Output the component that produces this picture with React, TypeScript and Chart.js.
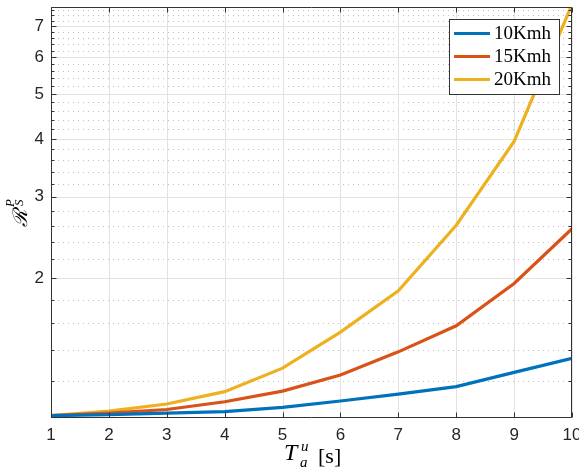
import React, { useEffect, useRef } from "react";
import { Chart, registerables } from "chart.js";

Chart.register(...registerables);

const xValues = [1, 2, 3, 4, 5, 6, 7, 8, 9, 10];
const series10 = [1.012, 1.017, 1.025, 1.032, 1.054, 1.088, 1.126, 1.169, 1.254, 1.345];
const series15 = [1.012, 1.025, 1.043, 1.084, 1.143, 1.238, 1.389, 1.581, 1.951, 2.56];
const series20 = [1.012, 1.035, 1.072, 1.14, 1.281, 1.532, 1.881, 2.605, 3.95, 7.8];
const seriesLabels = ["10Kmh", "15Kmh", "20Kmh"];
const seriesColors = ["#0072BD", "#D95319", "#EDB120"];
const xTicks = [1, 2, 3, 4, 5, 6, 7, 8, 9, 10];
const yMajorTicks = [2, 3, 4, 5, 6, 7];
const yMinorTicks = [1.2, 1.4, 1.6, 1.8, 2.2, 2.4, 2.6, 2.8, 3.2, 3.4, 3.6, 3.8, 4.2, 4.4, 4.6, 4.8, 5.2, 5.4, 5.6, 5.8, 6.2, 6.4, 6.6, 6.8, 7.2, 7.4, 7.6];
const yMin = 1;
const yMax = 7.7;
const xMin = 1;
const xMax = 10;

const AXIS = "#333333";

const matlabPlugin = {
  id: "matlab",
  beforeDatasetsDraw(chart: any) {
    const { ctx, chartArea: a, scales } = chart;
    const xs = scales.x;
    const ys = scales.y;
    ctx.save();
    ctx.lineWidth = 1;
    ctx.strokeStyle = "rgba(110,110,110,0.45)";
    ctx.setLineDash([1, 4]);
    for (const v of yMinorTicks) {
      const y = Math.round(ys.getPixelForValue(v)) + 0.5;
      ctx.beginPath();
      ctx.moveTo(a.left + 2, y);
      ctx.lineTo(a.right, y);
      ctx.stroke();
    }
    ctx.setLineDash([]);
    ctx.strokeStyle = "#e2e2e2";
    for (const v of yMajorTicks) {
      const y = Math.round(ys.getPixelForValue(v)) + 0.5;
      ctx.beginPath();
      ctx.moveTo(a.left, y);
      ctx.lineTo(a.right, y);
      ctx.stroke();
    }
    for (const v of xTicks) {
      const x = Math.round(xs.getPixelForValue(v)) + 0.5;
      ctx.beginPath();
      ctx.moveTo(x, a.top);
      ctx.lineTo(x, a.bottom);
      ctx.stroke();
    }
    ctx.restore();
  },
  afterDatasetsDraw(chart: any) {
    const { ctx, chartArea: a, scales } = chart;
    const xs = scales.x;
    const ys = scales.y;
    ctx.save();
    ctx.strokeStyle = AXIS;
    ctx.lineWidth = 1;
    const L = Math.round(a.left) + 0.5;
    const R = Math.round(a.right) - 0.5;
    const T = Math.round(a.top) + 0.5;
    const B = Math.round(a.bottom) - 0.5;
    ctx.beginPath();
    ctx.rect(L, T, R - L, B - T);
    ctx.stroke();
    ctx.beginPath();
    for (const v of xTicks) {
      const x = Math.round(xs.getPixelForValue(v)) + 0.5;
      ctx.moveTo(x, B);
      ctx.lineTo(x, B - 5);
      ctx.moveTo(x, T);
      ctx.lineTo(x, T + 5);
    }
    for (const v of yMajorTicks) {
      const y = Math.round(ys.getPixelForValue(v)) + 0.5;
      ctx.moveTo(L, y);
      ctx.lineTo(L + 5, y);
      ctx.moveTo(R, y);
      ctx.lineTo(R - 5, y);
    }
    for (const v of yMinorTicks) {
      const y = Math.round(ys.getPixelForValue(v)) + 0.5;
      ctx.moveTo(L, y);
      ctx.lineTo(L + 3, y);
      ctx.moveTo(R, y);
      ctx.lineTo(R - 3, y);
    }
    ctx.stroke();

    // legend
    const bx = 449.5, by = 19.5, bw = 110, bh = 75;
    ctx.fillStyle = "#ffffff";
    ctx.fillRect(bx, by, bw, bh);
    ctx.strokeStyle = AXIS;
    ctx.strokeRect(bx, by, bw, bh);
    ctx.font = "19px 'Liberation Serif'";
    ctx.textBaseline = "middle";
    ctx.textAlign = "left";
    chart.data.datasets.forEach((ds: any, i: number) => {
      const y = 33.5 + i * 23;
      ctx.strokeStyle = ds.borderColor;
      ctx.lineWidth = 3;
      ctx.beginPath();
      ctx.moveTo(454, y);
      ctx.lineTo(490, y);
      ctx.stroke();
      ctx.fillStyle = "#000";
      ctx.fillText(ds.label, 494, y + 1);
    });

    // x title
    ctx.fillStyle = "#000";
    ctx.textBaseline = "alphabetic";
    ctx.font = "italic 24px 'Liberation Serif'";
    ctx.fillText("T", 284, 460);
    ctx.font = "italic 15px 'Liberation Serif'";
    ctx.fillText("u", 301, 451);
    ctx.fillText("a", 300, 467);
    ctx.font = "22px 'Liberation Serif'";
    ctx.fillText("[s]", 318, 463);

    // y title
    ctx.save();
    ctx.translate(27, 227);
    ctx.rotate(-Math.PI / 2);
    ctx.font = "italic 20px 'DejaVu Serif'";
    ctx.fillText("\u211B", 0, 0);
    const w = Math.max(ctx.measureText("\u211B").width, 19);
    ctx.font = "italic 13px 'Liberation Serif'";
    ctx.fillText("P", w + 1, -13);
    ctx.fillText("S", w + 2, -4);
    ctx.restore();

    ctx.restore();
  },
};

export default function App() {
  const ref = useRef<HTMLCanvasElement | null>(null);
  useEffect(() => {
    document.body.style.margin = "0";
    const canvas = ref.current;
    if (!canvas) return;
    const chart = new Chart(canvas, {
      type: "line",
      data: {
        labels: xValues,
        datasets: [series10, series15, series20].map((d, i) => ({
          label: seriesLabels[i],
          data: xValues.map((x, j) => ({ x, y: d[j] })),
          borderColor: seriesColors[i],
          backgroundColor: seriesColors[i],
          borderWidth: 3.2,
          pointRadius: 0,
          tension: 0,
          fill: false,
        })),
      },
      options: {
        animation: false,
        responsive: false,
        maintainAspectRatio: false,
        layout: { padding: { left: 0, top: 7, right: 7, bottom: 0 } },
        plugins: {
          legend: { display: false },
          tooltip: { enabled: false },
          title: { display: false },
        },
        scales: {
          x: {
            type: "linear",
            min: xMin,
            max: xMax,
            grid: { display: false, drawTicks: false },
            border: { display: false },
            ticks: {
              stepSize: 1,
              autoSkip: false,
              maxRotation: 0,
              padding: 7,
              color: "#262626",
              font: { family: "'Liberation Sans', Arial, sans-serif", size: 17 },
            },
            afterBuildTicks: (s: any) => {
              s.ticks = xTicks.map((v) => ({ value: v }));
            },
            afterFit: (s: any) => {
              s.height = 52;
              s.paddingLeft = 0;
              s.paddingRight = 0;
            },
          },
          y: {
            type: "logarithmic",
            min: yMin,
            max: yMax,
            grid: { display: false, drawTicks: false },
            border: { display: false },
            ticks: {
              autoSkip: false,
              padding: 7,
              color: "#262626",
              font: { family: "'Liberation Sans', Arial, sans-serif", size: 17 },
              callback: (v: any) => (yMajorTicks.includes(Number(v)) ? String(v) : ""),
            },
            afterBuildTicks: (s: any) => {
              const all = [...yMajorTicks, ...yMinorTicks].sort((p, q) => p - q);
              s.ticks = all.map((v) => ({ value: v }));
            },
            afterFit: (s: any) => {
              s.width = 51;
              s.paddingTop = 0;
              s.paddingBottom = 0;
            },
          },
        },
      },
      plugins: [matlabPlugin],
    } as any);
    return () => chart.destroy();
  }, []);
  return (
    <div style={{ width: 579, height: 470, position: "relative", background: "#fff" }}>
      <canvas ref={ref} width={579} height={470} style={{ display: "block" }} />
    </div>
  );
}
